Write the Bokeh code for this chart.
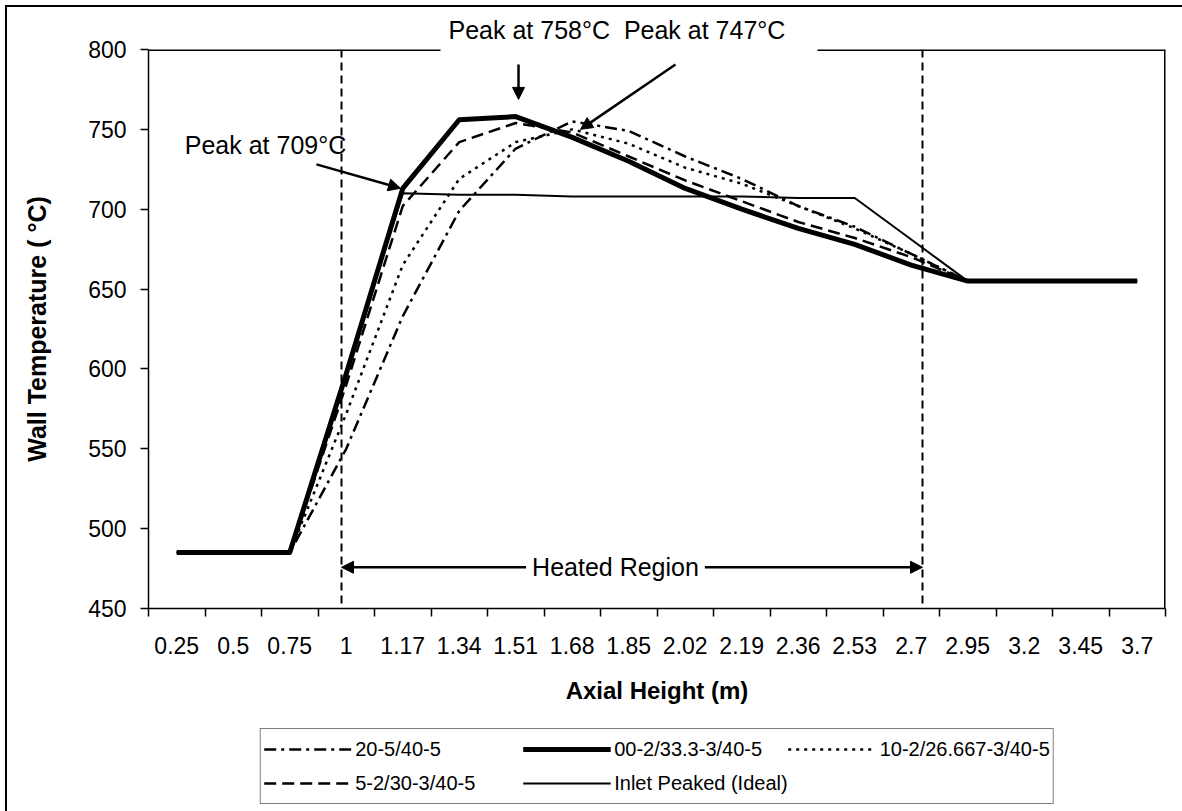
from bokeh.plotting import figure
from bokeh.layouts import column
from bokeh.models import (Range1d, FixedTicker, Legend, LegendItem, Label, Arrow,
                          NormalHead, Span)
from bokeh.embed import file_html
from bokeh.resources import INLINE

# ---------------- data ----------------
heights = ["0.25", "0.5", "0.75", "1", "1.17", "1.34", "1.51", "1.68", "1.85",
           "2.02", "2.19", "2.36", "2.53", "2.7", "2.95", "3.2", "3.45", "3.7"]
t_20_5 = [485, 485, 485, 550, 633, 699, 738, 755, 749, 733, 719, 702, 689, 672, 655, 655, 655, 655]
t_00_2 = [485, 485, 485, 597, 713, 756, 758, 745, 730, 713, 700, 688, 678, 665, 655, 655, 655, 655]
t_10_2 = [485, 485, 485, 572, 665, 719, 742, 750, 741, 726, 716, 702, 688, 672, 655, 655, 655, 655]
t_5_2 = [485, 485, 485, 590, 702, 742, 754, 748, 733, 718, 705, 692, 682, 670, 655, 655, 655, 655]
t_ideal = [485, 485, 485, 597, 710, 709, 709, 708, 708, 708, 708, 707, 707, 681, 655, 655, 655, 655]
y_ticks = [450, 500, 550, 600, 650, 700, 750, 800]
series_names = ["20-5/40-5", "00-2/33.3-3/40-5", "10-2/26.667-3/40-5",
                "5-2/30-3/40-5", "Inlet Peaked (Ideal)"]

FONT = "Liberation Sans"
xs = list(range(len(heights)))
X0, X1 = -0.5, len(heights) - 0.5
Y0, Y1 = 450, 800

styles = {
    "20-5": dict(line_color="black", line_width=2.5, line_dash="12 5 3 5"),
    "00-2": dict(line_color="black", line_width=5, line_join="round"),
    "10-2": dict(line_color="black", line_width=2.5, line_dash="3 5"),
    "5-2": dict(line_color="black", line_width=2.5, line_dash="12 6"),
    "ideal": dict(line_color="black", line_width=2),
}

# ---------------- main chart ----------------
p = figure(width=1175, height=714,
           x_range=Range1d(X0, X1), y_range=Range1d(Y0, Y1),
           output_backend="svg", toolbar_location=None,
           min_border_left=141, min_border_right=17, min_border_top=41, min_border_bottom=113)
p.background_fill_color = "white"
p.border_fill_color = "white"
p.outline_line_color = None
p.xgrid.visible = False
p.ygrid.visible = False

# top annotation text (sits above the plot frame)
p.title.text = "Peak at 758°C\u00a0\u00a0Peak at 747°C"
p.title.align = "left"
p.title.offset = 300
p.title.standoff = 12
p.title.text_font = FONT
p.title.text_font_size = "25px"
p.title.text_font_style = "normal"
p.title.text_color = "black"

# x axis: labels at category centres, tick marks at category boundaries
ax = p.xaxis[0]
ax.ticker = FixedTicker(ticks=xs, minor_ticks=[i - 0.5 for i in range(len(heights) + 1)])
ax.major_label_overrides = {i: h for i, h in enumerate(heights)}
ax.major_tick_out = 0
ax.major_tick_in = 0
ax.minor_tick_out = 8
ax.minor_tick_in = 0
ax.minor_tick_line_color = "black"
ax.minor_tick_line_width = 1.5
ax.axis_line_width = 1.5
ax.major_label_text_font = FONT
ax.major_label_text_font_size = "23px"
ax.major_label_text_color = "black"
ax.major_label_standoff = 20
ax.axis_label = "Axial Height (m)"
ax.axis_label_text_font = FONT
ax.axis_label_text_font_style = "bold"
ax.axis_label_text_font_size = "24px"
ax.axis_label_text_color = "black"
ax.axis_label_standoff = 20

ay = p.yaxis[0]
ay.ticker = FixedTicker(ticks=y_ticks)
ay.major_tick_out = 8
ay.major_tick_in = 0
ay.minor_tick_out = 0
ay.minor_tick_in = 0
ay.major_tick_line_width = 1.5
ay.axis_line_width = 1.5
ay.major_label_text_font = FONT
ay.major_label_text_font_size = "23px"
ay.major_label_text_color = "black"
ay.major_label_standoff = 14
ay.axis_label = "Wall Temperature ( °C)"
ay.axis_label_text_font = FONT
ay.axis_label_text_font_style = "bold"
ay.axis_label_text_font_size = "25px"
ay.axis_label_text_color = "black"
ay.axis_label_standoff = 34

# frame edges (top edge is interrupted by the annotation text box)
GAP_L, GAP_R = 4.668, 11.34
p.segment(x0=[X0, GAP_R, X1], y0=[Y1, Y1, Y0], x1=[GAP_L, X1, X1], y1=[Y1, Y1, Y1],
          line_color="black", line_width=3)

# heated region boundaries
for xv in (2.916, 13.199):
    p.add_layout(Span(location=xv, dimension="height", line_color="black",
                      line_width=2, line_dash="8 5"))

# series
p.line(xs, t_00_2, **styles["00-2"])
p.line(xs, t_20_5, **styles["20-5"])
p.line(xs, t_10_2, **styles["10-2"])
p.line(xs, t_5_2, **styles["5-2"])
p.line(xs, t_ideal, **styles["ideal"])

# arrows
head = dict(size=12, fill_color="black", line_color="black")
p.add_layout(Arrow(x_start=2.473, y_start=728.1, x_end=3.96, y_end=713.1,
                   end=NormalHead(**head), line_width=2.5))
p.add_layout(Arrow(x_start=6.049, y_start=790.6, x_end=6.049, y_end=768.75,
                   end=NormalHead(**head), line_width=2.5))
p.add_layout(Arrow(x_start=8.827, y_start=790.6, x_end=7.146, y_end=750,
                   end=NormalHead(**head), line_width=2.5))
p.add_layout(Arrow(x_start=2.916, y_start=475.8, x_end=13.199, y_end=475.8,
                   start=NormalHead(**head), end=NormalHead(**head), line_width=2.5))

# labels
p.add_layout(Label(x=1.571, y=731.25, text="Peak at 709°C", text_align="center",
                   text_font=FONT, text_font_size="25px", text_color="black"))
p.add_layout(Label(x=7.765, y=475.8, text="Heated Region", text_align="center",
                   text_baseline="middle", text_font=FONT, text_font_size="25px",
                   text_color="black", background_fill_color="white", padding=6,
                   level="overlay"))

# ---------------- legend strip below the chart ----------------
q = figure(width=1175, height=90, x_range=Range1d(0, 1), y_range=Range1d(0, 1),
           x_axis_location=None, y_axis_location=None,
           output_backend="svg", toolbar_location=None,
           min_border_left=110, min_border_right=0, min_border_top=0, min_border_bottom=0)
q.background_fill_color = "white"
q.border_fill_color = "white"
q.outline_line_color = None
q.grid.visible = False
# same series drawn here (outside the visible range) so the legend can reference them
l_dd = q.line(xs, t_20_5, **styles["20-5"])
l_thick = q.line(xs, t_00_2, **styles["00-2"])
l_dot = q.line(xs, t_10_2, **styles["10-2"])
l_dash = q.line(xs, t_5_2, **styles["5-2"])
l_ideal = q.line(xs, t_ideal, **styles["ideal"])

legend = Legend(items=[
    LegendItem(label=series_names[0], renderers=[l_dd]),
    LegendItem(label=series_names[1], renderers=[l_thick]),
    LegendItem(label=series_names[2], renderers=[l_dot]),
    LegendItem(label=series_names[3], renderers=[l_dash]),
    LegendItem(label=series_names[4], renderers=[l_ideal]),
], orientation="horizontal", ncols=3, location="center")
legend.label_text_font = FONT
legend.label_text_font_size = "20px"
legend.label_text_color = "black"
legend.glyph_width = 88
legend.glyph_height = 34
legend.label_width = 167
legend.label_standoff = 4
legend.spacing = 0
legend.padding = 3
legend.margin = 0
legend.border_line_color = "black"
legend.border_line_width = 1.5
legend.background_fill_color = "white"
legend.background_fill_alpha = 1
q.add_layout(legend)

layout = column(p, q)
layout.styles = {"position": "absolute", "left": "5px", "top": "5px",
                 "border-left": "2px solid black", "border-top": "2px solid black"}

open("out.html", "w").write(file_html(layout, INLINE))
